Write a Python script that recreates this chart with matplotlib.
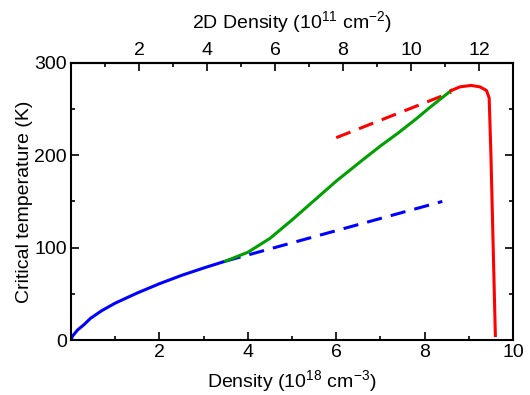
import matplotlib
matplotlib.use('Agg')
import matplotlib.pyplot as plt
from matplotlib.ticker import MultipleLocator

plt.rcParams['font.family'] = ['Liberation Sans', 'DejaVu Sans']
plt.rcParams['font.size'] = 14
plt.rcParams['mathtext.fontset'] = 'custom'
plt.rcParams['mathtext.rm'] = 'Liberation Sans'

# --- data ---
blue_x = [0, 0.03, 0.08, 0.15, 0.3, 0.44, 0.7, 1.0, 1.5, 2.0, 2.5, 3.0, 3.5]
blue_y = [0, 4, 7, 11, 17, 23.5, 32, 40, 51, 61, 70, 78, 85.5]

green_x = [3.5, 4.0, 4.5, 5.0, 5.5, 6.0, 6.6, 7.0, 7.4, 7.8, 8.1, 8.6]
green_y = [85.5, 95, 110, 130, 151, 172, 195, 210, 224, 239, 251, 270]

red_x = [8.6, 8.8, 9.05, 9.25, 9.4, 9.46, 9.5, 9.6]
red_y = [270, 274, 275.5, 274, 270, 262, 200, 5]

blue_dash_x = [3.5, 8.4]
blue_dash_y = [85.5, 150]

red_dash_x = [6.0, 8.6]
red_dash_y = [219, 268]

factor_2d = 1.3  # 2D density (1e11 cm^-2) per 3D density (1e18 cm^-3)

fig = plt.figure(figsize=(5.3, 3.95), dpi=100)
ax = fig.add_axes([0.134, 0.139, 0.834, 0.702])

dash = (0, (5, 3))
ax.plot(blue_dash_x, blue_dash_y, color='#0000ff', lw=2.2, linestyle=dash)
ax.plot(red_dash_x, red_dash_y, color='#ff0000', lw=2.2, linestyle=dash)
ax.plot(blue_x, blue_y, color='#0000ff', lw=2.2, solid_capstyle='butt')
ax.plot(green_x, green_y, color='#00a000', lw=2.2)
ax.plot(red_x, red_y, color='#ff0000', lw=2.2)

ax.set_xlim(0, 10)
ax.set_ylim(0, 300)
ax.set_xticks([2, 4, 6, 8, 10])
ax.xaxis.set_minor_locator(MultipleLocator(1))
ax.set_yticks([0, 100, 200, 300])
ax.yaxis.set_minor_locator(MultipleLocator(50))
ax.tick_params(which='both', direction='in', right=True, width=1.2, pad=3)
ax.tick_params(which='major', length=6)
ax.tick_params(which='minor', length=3)
for s in ax.spines.values():
    s.set_linewidth(1.5)

ax.set_xlabel('Density (10$^{18}$ cm$^{-3}$)', labelpad=5)
ax.set_ylabel('Critical temperature (K)', labelpad=1)

top = ax.secondary_xaxis('top', functions=(lambda x: x * factor_2d, lambda x: x / factor_2d))
top.set_xticks([2, 4, 6, 8, 10, 12])
top.xaxis.set_minor_locator(MultipleLocator(1))
top.tick_params(which='both', direction='in', width=1.2, pad=3)
top.tick_params(which='major', length=6)
top.tick_params(which='minor', length=3)
top.spines['top'].set_linewidth(1.5)
top.set_xlabel('2D Density (10$^{11}$ cm$^{-2}$)', labelpad=9)

fig.savefig('out.png', dpi=100)
